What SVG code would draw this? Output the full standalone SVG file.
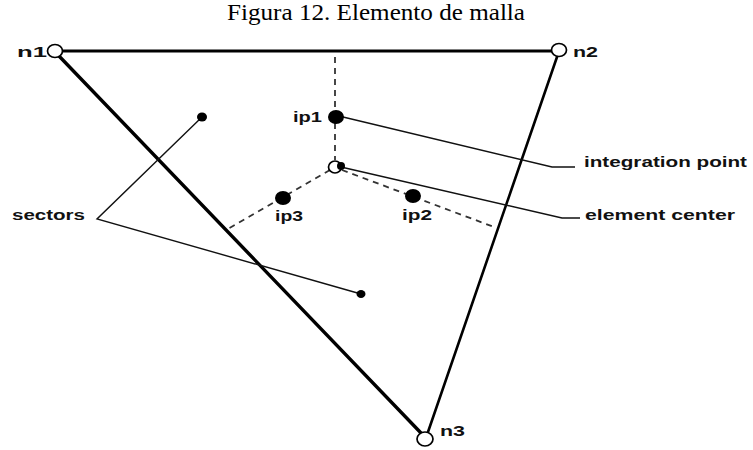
<svg xmlns="http://www.w3.org/2000/svg" width="753" height="450" viewBox="0 0 753 450">
  <style>
    .title { font-family: "Liberation Serif", "Times New Roman", serif; font-size: 23px; fill: #000; }
    .lbl { font-family: "Liberation Sans", Arial, sans-serif; font-weight: bold; font-size: 14.5px; fill: #111; }
    .edge { stroke: #000; fill: none; stroke-linecap: round; }
    .dash { stroke: #333; stroke-width: 1.8; stroke-dasharray: 6 5; fill: none; }
    .lead { stroke: #111; stroke-width: 1.4; fill: none; }
    .node { fill: #fff; stroke: #000; stroke-width: 1.7; }
    .pt { fill: #000; }
  </style>
  <rect width="753" height="450" fill="#fff"/>

  <text class="title" x="376" y="20" text-anchor="middle" textLength="298" lengthAdjust="spacingAndGlyphs">Figura 12. Elemento de malla</text>

  <!-- triangle edges, internal sector boundaries and leader lines -->
  <g id="connectors">
    <line class="edge" x1="61" y1="51" x2="552" y2="51" stroke-width="3"/>
    <line class="edge" x1="59" y1="56" x2="421" y2="433" stroke-width="3.4"/>
    <line class="edge" x1="557" y1="57" x2="428" y2="432" stroke-width="2.6"/>
    <line class="dash" x1="335" y1="57" x2="335" y2="160"/>
    <line class="dash" x1="330" y1="170" x2="226" y2="230"/>
    <line class="dash" x1="342" y1="170" x2="494" y2="227"/>
    <polyline class="lead" points="343,117 552,167 575,167"/>
    <polyline class="lead" points="341,167 562,218 580,218"/>
    <polyline class="lead" points="202,117 97,219 361,294"/>
  </g>

  <g id="n1">
    <ellipse class="node" cx="55" cy="51" rx="7.5" ry="6.5"/>
    <text class="lbl" x="17" y="57" textLength="30" lengthAdjust="spacingAndGlyphs">n1</text>
  </g>
  <g id="n2">
    <ellipse class="node" cx="559" cy="50" rx="7.5" ry="6.5"/>
    <text class="lbl" x="573" y="57" textLength="25" lengthAdjust="spacingAndGlyphs">n2</text>
  </g>
  <g id="n3">
    <ellipse class="node" cx="425" cy="439" rx="8" ry="7"/>
    <text class="lbl" x="440" y="436" textLength="25" lengthAdjust="spacingAndGlyphs">n3</text>
  </g>

  <g id="ip1">
    <ellipse class="pt" cx="336" cy="117" rx="8" ry="7"/>
    <text class="lbl" x="293" y="122" textLength="29" lengthAdjust="spacingAndGlyphs">ip1</text>
  </g>
  <g id="ip2">
    <ellipse class="pt" cx="413" cy="196" rx="8" ry="7"/>
    <text class="lbl" x="402" y="220" textLength="30" lengthAdjust="spacingAndGlyphs">ip2</text>
  </g>
  <g id="ip3">
    <ellipse class="pt" cx="283" cy="198" rx="8" ry="7"/>
    <text class="lbl" x="275" y="221" textLength="28" lengthAdjust="spacingAndGlyphs">ip3</text>
  </g>

  <g id="center">
    <ellipse class="node" cx="335" cy="167" rx="6.5" ry="6"/>
    <circle class="pt" cx="341" cy="166" r="4"/>
  </g>

  <g id="sector-points">
    <ellipse class="pt" cx="202" cy="117" rx="5" ry="4.5"/>
    <ellipse class="pt" cx="361" cy="294" rx="4.5" ry="4"/>
  </g>

  <g id="integration-point-label">
    <text class="lbl" x="584" y="167" textLength="163" lengthAdjust="spacingAndGlyphs">integration point</text>
  </g>
  <g id="element-center-label">
    <text class="lbl" x="585" y="220" textLength="150" lengthAdjust="spacingAndGlyphs">element center</text>
  </g>
  <g id="sectors-label">
    <text class="lbl" x="12" y="220" textLength="73" lengthAdjust="spacingAndGlyphs">sectors</text>
  </g>
</svg>
